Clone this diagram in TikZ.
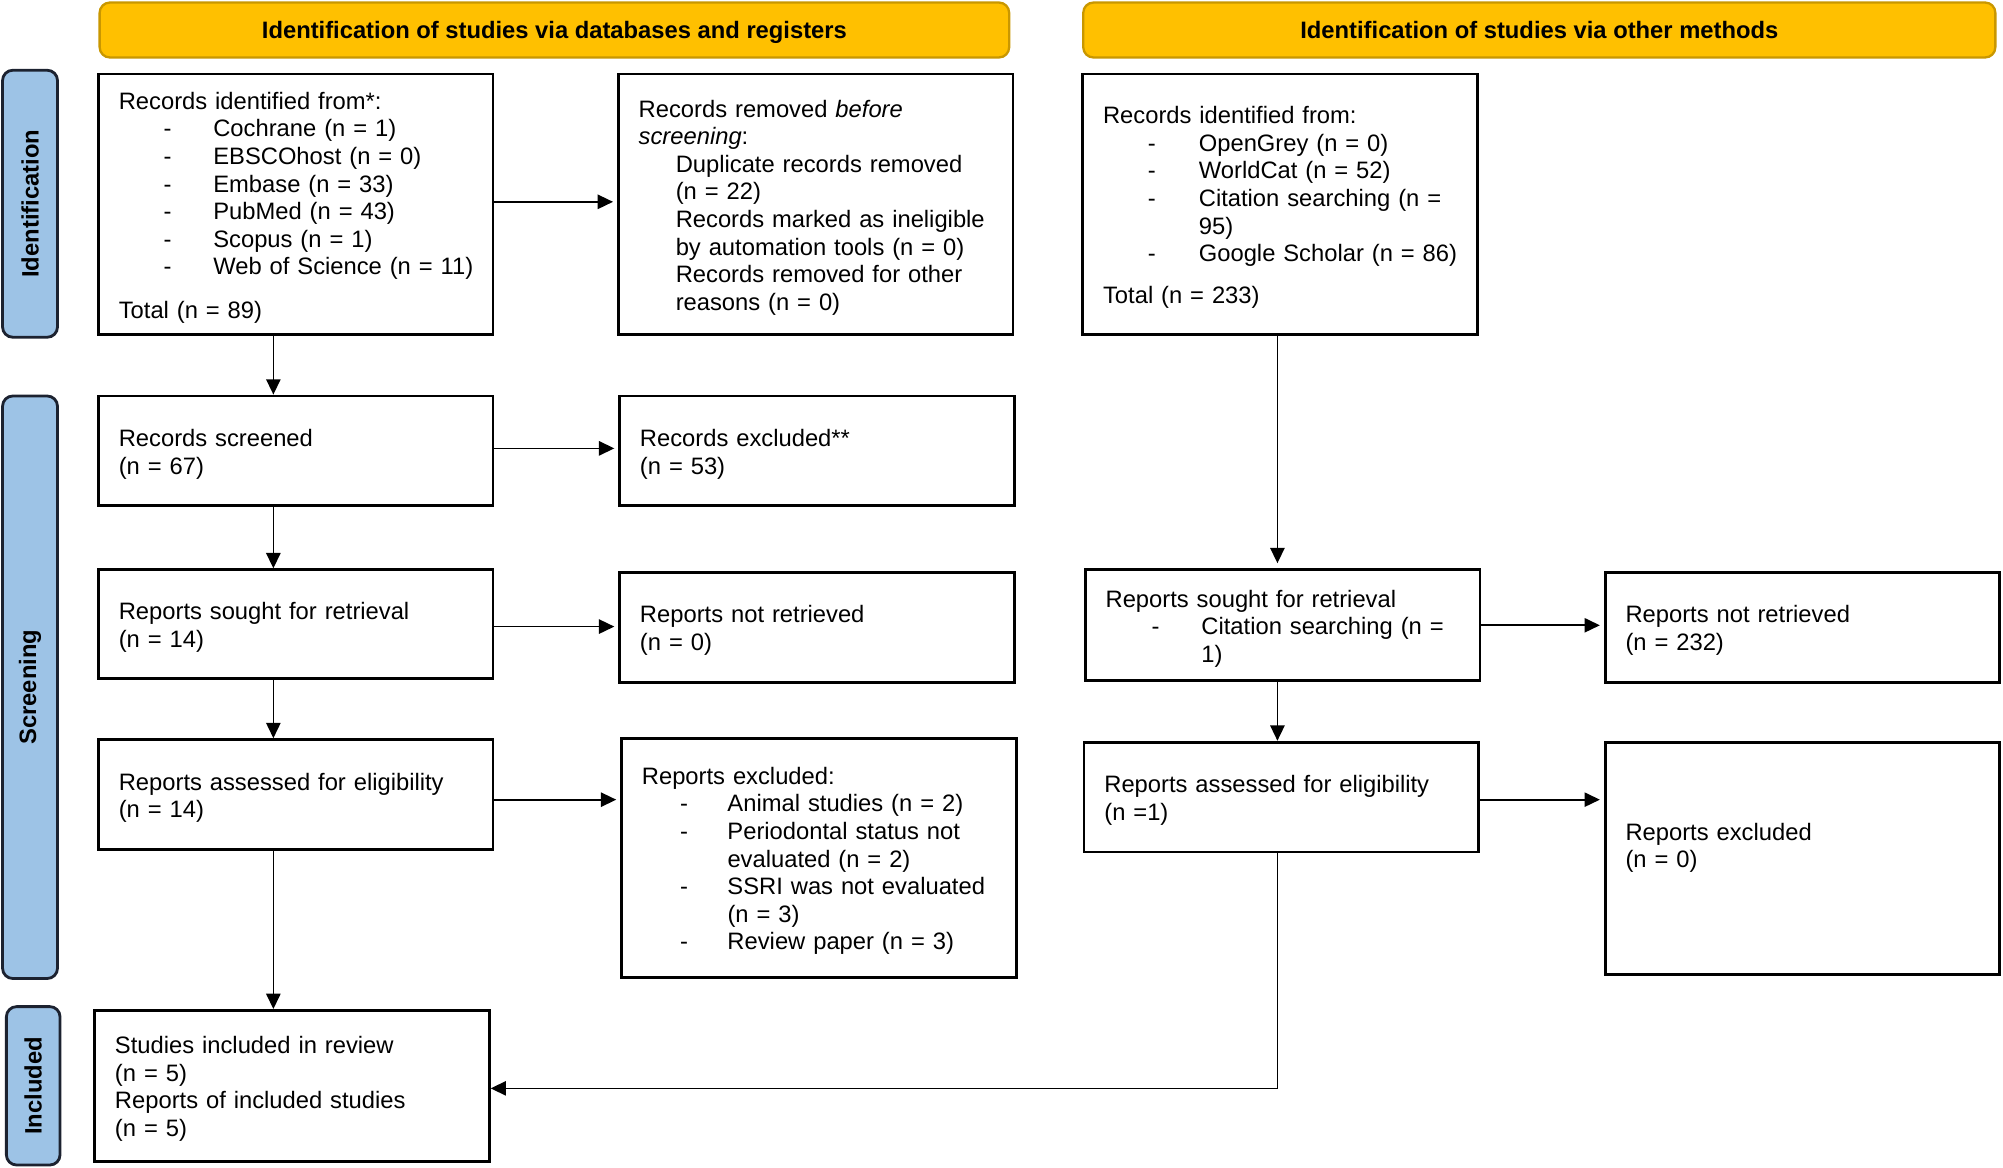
\documentclass[tikz,border=0pt]{standalone}
\usepackage{fontspec}
\setmainfont{Liberation Sans}
\usetikzlibrary{arrows.meta}
\setlength{\parindent}{0pt}
\definecolor{hdrfill}{HTML}{FFC000}
\definecolor{hdrline}{HTML}{C99700}
\definecolor{sidefill}{HTML}{9DC3E6}
\definecolor{sideline}{HTML}{1C2230}
\newcommand{\itm}[3]{\hspace*{#1}\makebox[#2][l]{-}#3}
\newcommand{\tb}[1]{\begin{tabular}{@{}l@{}}#1\\[-3pt]\end{tabular}}
\tikzset{
  every node/.style={font=\fontsize{9.3}{10.8}\selectfont},
  pbox/.style={draw=black, line width=1.1pt, fill=white, rectangle,
    inner xsep=8pt, inner ysep=0pt, text width=138.5pt, align=left,
    minimum height=#1},
  hdr/.style={draw=hdrline, fill=hdrfill, line width=0.9pt, rounded corners=4pt,
    minimum height=21.5pt, align=center, text height=7.6pt, text depth=1pt,
    font=\bfseries\fontsize{9.3}{10.8}\selectfont},
  side/.style={draw=sideline, fill=sidefill, line width=1.1pt, rounded corners=4pt,
    rotate=90, align=center, font=\bfseries\fontsize{9.3}{10.8}\selectfont},
  conn/.style={line width=0.65pt, -{Triangle[length=6pt,width=5.6pt]}},
}
\begin{document}
\begin{tikzpicture}[x=0.5pt,y=-0.5pt]
\useasboundingbox (0,0) rectangle (1568,914);

% headers
\node[hdr, minimum width=356pt] (h1) at (434,23.5) {Identification of studies via databases and registers};
\node[hdr, minimum width=357pt] (h2) at (1205,23.5) {Identification of studies via other methods};

% side bars
\node[side, minimum width=104.5pt, minimum height=21.5pt] (s1) at (23.5,159.5) {Identification};
\node[side, minimum width=228pt, minimum height=21.5pt] (s2) at (23.5,538) {Screening};
\node[side, minimum width=62pt, minimum height=21pt] (s3) at (26,850) {Included};

% left column
\node[pbox=102pt] (A) at (231.5,160) {\tb{%
Records identified from*:\\
\itm{17.5pt}{19.5pt}{Cochrane (n = 1)}\\
\itm{17.5pt}{19.5pt}{EBSCOhost (n = 0)}\\
\itm{17.5pt}{19.5pt}{Embase (n = 33)}\\
\itm{17.5pt}{19.5pt}{PubMed (n = 43)}\\
\itm{17.5pt}{19.5pt}{Scopus (n = 1)}\\
\itm{17.5pt}{19.5pt}{Web of Science (n = 11)}\\[6.2pt]
Total (n = 89)}};

\node[pbox=102pt] (B) at (638.5,160) {\tb{%
Records removed \textit{before}\\
\textit{screening}:\\
\hspace*{14.5pt}Duplicate records removed\\
\hspace*{14.5pt}(n = 22)\\
\hspace*{14.5pt}Records marked as ineligible\\
\hspace*{14.5pt}by automation tools (n = 0)\\
\hspace*{14.5pt}Records removed for other\\
\hspace*{14.5pt}reasons (n = 0)}};

\node[pbox=43pt] (D) at (231.5,353) {\tb{%
Records screened\\
(n = 67)}};

\node[pbox=43pt] (E) at (639.5,353) {\tb{%
Records excluded**\\
(n = 53)}};

\node[pbox=42.5pt] (F) at (231.5,488.5) {\tb{%
Reports sought for retrieval\\
(n = 14)}};

\node[pbox=43pt] (G) at (639.5,491) {\tb{%
Reports not retrieved\\
(n = 0)}};

\node[pbox=43pt] (H) at (231.5,622) {\tb{%
Reports assessed for eligibility\\
(n = 14)}};

\node[pbox=93.5pt] (I) at (641,671.5) {\tb{%
Reports excluded:\\
\itm{15pt}{18.5pt}{Animal studies (n = 2)}\\
\itm{15pt}{18.5pt}{Periodontal status not}\\
\hspace*{33.5pt}evaluated (n = 2)\\
\itm{15pt}{18.5pt}{SSRI was not evaluated}\\
\hspace*{33.5pt}(n = 3)\\
\itm{15pt}{18.5pt}{Review paper (n = 3)}}};

\node[pbox=59pt] (J) at (228.5,850) {\tb{%
Studies included in review\\
(n = 5)\\
Reports of included studies\\
(n = 5)}};

% right column
\node[pbox=102pt] (C) at (1002,160) {\tb{%
Records identified from:\\
\itm{17.5pt}{20pt}{OpenGrey (n = 0)}\\
\itm{17.5pt}{20pt}{WorldCat (n = 52)}\\
\itm{17.5pt}{20pt}{Citation searching (n =}\\
\hspace*{37.5pt}95)\\
\itm{17.5pt}{20pt}{Google Scholar (n = 86)}\\[5.7pt]
Total (n = 233)}};

\node[pbox=43.5pt] (K) at (1004,489.5) {\tb{%
Reports sought for retrieval\\
\itm{18pt}{19.5pt}{Citation searching (n =}\\
\hspace*{37.5pt}1)}};

\node[pbox=43pt] (L) at (1411,491) {\tb{%
Reports not retrieved\\
(n = 232)}};

\node[pbox=43pt] (M) at (1003,624) {\tb{%
Reports assessed for eligibility\\
(n =1)}};

\node[pbox=91pt] (N) at (1411,672) {\tb{%
Reports excluded\\
(n = 0)\\
\mbox{}}};

% connectors
\coordinate (lx) at (214,0);
\coordinate (rx) at (1000,0);
\draw[conn] (A.south -| lx) -- (D.north -| lx);
\draw[conn] (D.south -| lx) -- (F.north -| lx);
\draw[conn] (F.south -| lx) -- (H.north -| lx);
\draw[conn] (H.south -| lx) -- (J.north -| lx);
\draw[conn, shorten >=1.5pt] ([yshift=1pt]A.east) -- ([yshift=1pt]A.east -| B.west);
\draw[conn, shorten >=1.5pt] ([yshift=1pt]D.east) -- ([yshift=1pt]D.east -| E.west);
\draw[conn, shorten >=1.5pt] ([yshift=-1pt]F.east) -- ([yshift=-1pt]F.east -| G.west);
\draw[conn, shorten >=1.5pt] ([yshift=-2pt]H.east) -- ([yshift=-2pt]H.east -| I.west);
\draw[conn, shorten >=2pt] (C.south -| rx) -- (K.north -| rx);
\draw[conn] (K.south -| rx) -- (M.north -| rx);
\draw[conn, shorten >=1.5pt] (K.east) -- (K.east -| L.west);
\draw[conn, shorten >=1.5pt] ([yshift=-1pt]M.east) -- ([yshift=-1pt]M.east -| N.west);
\draw[conn] (M.south -| rx) |- ([yshift=-1pt]J.east);
\end{tikzpicture}
\end{document}
